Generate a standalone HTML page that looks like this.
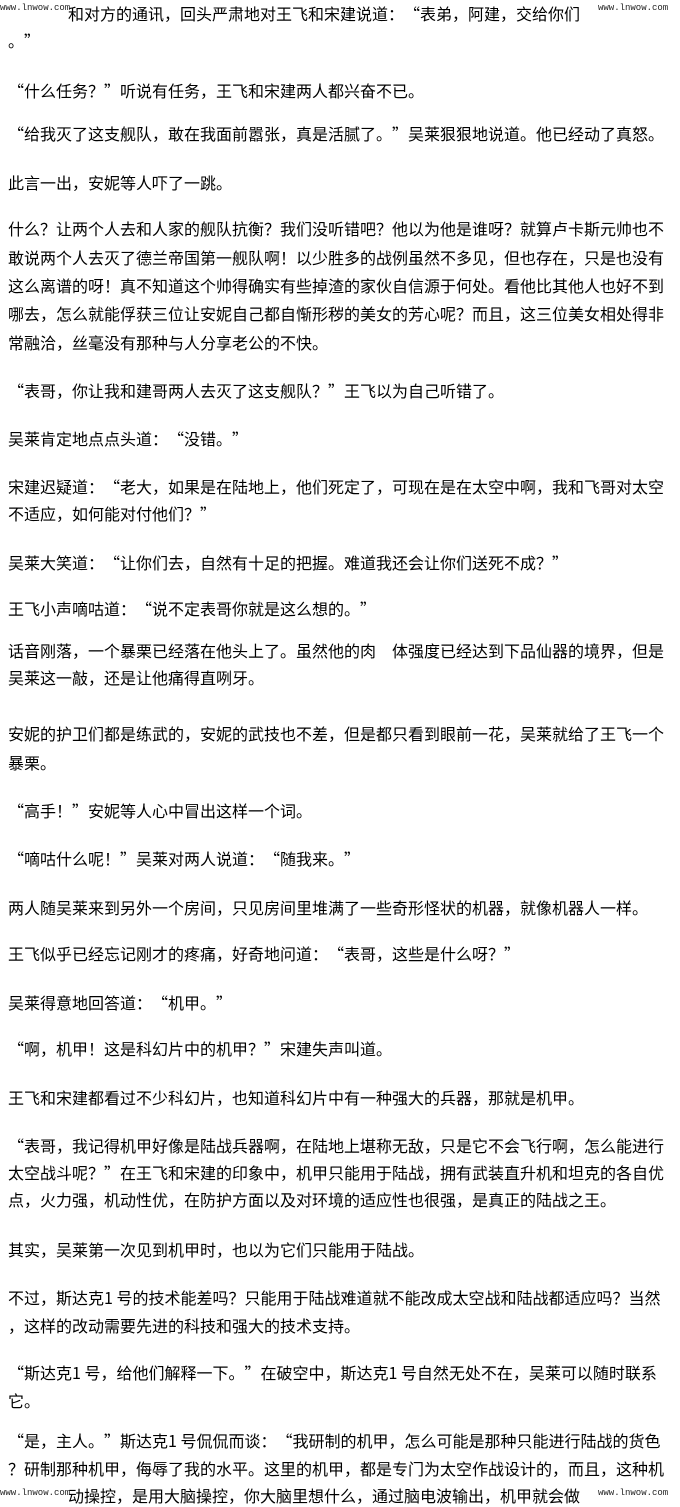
<!DOCTYPE html>
<html><head><meta charset="utf-8">
<style>
html,body{margin:0;padding:0;background:#fff;}
body{width:680px;height:1505px;position:relative;overflow:hidden;font-family:"Noto Sans CJK SC","WenQuanYi Zen Hei",sans-serif;color:#000;}
.l{position:absolute;left:8px;height:22px;line-height:22px;font-size:16px;white-space:pre;font-family:"Noto Sans CJK SC","WenQuanYi Zen Hei",sans-serif;text-spacing-trim:space-all;font-kerning:none;font-feature-settings:"halt" 0,"palt" 0,"chws" 0;}
.w{position:absolute;font-family:"Liberation Mono",monospace;font-size:9px;line-height:11px;background:#fff;color:#222;white-space:nowrap;}
</style></head><body>
<div class="l" style="top:2px;left:68px">和对方的通讯，回头严肃地对王飞和宋建说道：“表弟，阿建，交给你们</div>
<div class="w" style="left:0;top:3px;width:64px;height:16px">www.lnwow.com</div>
<div class="w" style="left:598px;top:3px;width:82px;height:16px">www.lnwow.com</div>
<div class="l" style="top:29px">。”</div>
<div class="l" style="top:79px">“什么任务？”听说有任务，王飞和宋建两人都兴奋不已。</div>
<div class="l" style="top:122px">“给我灭了这支舰队，敢在我面前嚣张，真是活腻了。”吴莱狠狠地说道。他已经动了真怒。</div>
<div class="l" style="top:171px">此言一出，安妮等人吓了一跳。</div>
<div class="l" style="top:217px">什么？让两个人去和人家的舰队抗衡？我们没听错吧？他以为他是谁呀？就算卢卡斯元帅也不</div>
<div class="l" style="top:246px">敢说两个人去灭了德兰帝国第一舰队啊！以少胜多的战例虽然不多见，但也存在，只是也没有</div>
<div class="l" style="top:274px">这么离谱的呀！真不知道这个帅得确实有些掉渣的家伙自信源于何处。看他比其他人也好不到</div>
<div class="l" style="top:302px">哪去，怎么就能俘获三位让安妮自己都自惭形秽的美女的芳心呢？而且，这三位美女相处得非</div>
<div class="l" style="top:331px">常融洽，丝毫没有那种与人分享老公的不快。</div>
<div class="l" style="top:379px">“表哥，你让我和建哥两人去灭了这支舰队？”王飞以为自己听错了。</div>
<div class="l" style="top:427px">吴莱肯定地点点头道：“没错。”</div>
<div class="l" style="top:475px">宋建迟疑道：“老大，如果是在陆地上，他们死定了，可现在是在太空中啊，我和飞哥对太空</div>
<div class="l" style="top:502px">不适应，如何能对付他们？”</div>
<div class="l" style="top:551px">吴莱大笑道：“让你们去，自然有十足的把握。难道我还会让你们送死不成？”</div>
<div class="l" style="top:597px">王飞小声嘀咕道：“说不定表哥你就是这么想的。”</div>
<div class="l" style="top:639px">话音刚落，一个暴栗已经落在他头上了。虽然他的肉　体强度已经达到下品仙器的境界，但是</div>
<div class="l" style="top:666px">吴莱这一敲，还是让他痛得直咧牙。</div>
<div class="l" style="top:722px">安妮的护卫们都是练武的，安妮的武技也不差，但是都只看到眼前一花，吴莱就给了王飞一个</div>
<div class="l" style="top:751px">暴栗。</div>
<div class="l" style="top:799px">“高手！”安妮等人心中冒出这样一个词。</div>
<div class="l" style="top:847px">“嘀咕什么呢！”吴莱对两人说道：“随我来。”</div>
<div class="l" style="top:896px">两人随吴莱来到另外一个房间，只见房间里堆满了一些奇形怪状的机器，就像机器人一样。</div>
<div class="l" style="top:942px">王飞似乎已经忘记刚才的疼痛，好奇地问道：“表哥，这些是什么呀？”</div>
<div class="l" style="top:991px">吴莱得意地回答道：“机甲。”</div>
<div class="l" style="top:1037px">“啊，机甲！这是科幻片中的机甲？”宋建失声叫道。</div>
<div class="l" style="top:1086px">王飞和宋建都看过不少科幻片，也知道科幻片中有一种强大的兵器，那就是机甲。</div>
<div class="l" style="top:1134px">“表哥，我记得机甲好像是陆战兵器啊，在陆地上堪称无敌，只是它不会飞行啊，怎么能进行</div>
<div class="l" style="top:1161px">太空战斗呢？”在王飞和宋建的印象中，机甲只能用于陆战，拥有武装直升机和坦克的各自优</div>
<div class="l" style="top:1188px">点，火力强，机动性优，在防护方面以及对环境的适应性也很强，是真正的陆战之王。</div>
<div class="l" style="top:1238px">其实，吴莱第一次见到机甲时，也以为它们只能用于陆战。</div>
<div class="l" style="top:1286px">不过，斯达克1 号的技术能差吗？只能用于陆战难道就不能改成太空战和陆战都适应吗？当然</div>
<div class="l" style="top:1314px">，这样的改动需要先进的科技和强大的技术支持。</div>
<div class="l" style="top:1361px">“斯达克1 号，给他们解释一下。”在破空中，斯达克1 号自然无处不在，吴莱可以随时联系</div>
<div class="l" style="top:1389px">它。</div>
<div class="l" style="top:1429px">“是，主人。”斯达克1 号侃侃而谈：“我研制的机甲，怎么可能是那种只能进行陆战的货色</div>
<div class="l" style="top:1457px">？研制那种机甲，侮辱了我的水平。这里的机甲，都是专门为太空作战设计的，而且，这种机</div>
<div class="l" style="top:1484px;left:68px">动操控，是用大脑操控，你大脑里想什么，通过脑电波输出，机甲就会做</div>
<div class="w" style="left:0;top:1488px;width:64px;height:17px">www.lnwow.com</div>
<div class="w" style="left:598px;top:1488px;width:82px;height:17px">www.lnwow.com</div>
</body></html>
